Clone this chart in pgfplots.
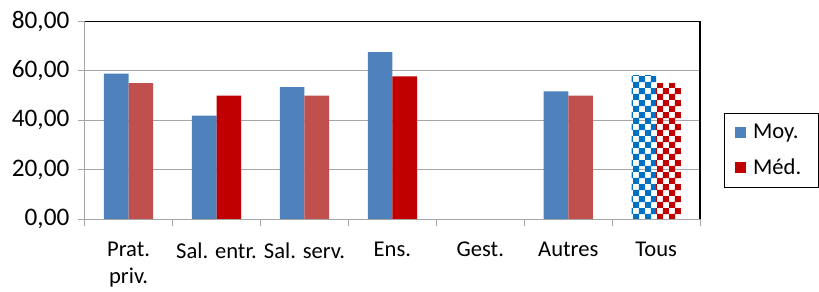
\documentclass[border=0pt]{standalone}
\usepackage{pgfplots}
\pgfplotsset{compat=1.18}
\usepackage{fontspec}
\setmainfont{Carlito}
\usetikzlibrary{patterns}
\pgfdeclarepatternformonly{bigchecker}{\pgfpointorigin}{\pgfqpoint{9pt}{9pt}}{\pgfqpoint{9pt}{9pt}}{%
 \pgfpathrectangle{\pgfpointorigin}{\pgfqpoint{4.6pt}{4.6pt}}%
 \pgfpathrectangle{\pgfqpoint{4.5pt}{4.5pt}}{\pgfqpoint{4.6pt}{4.6pt}}%
 \pgfusepath{fill}}
\definecolor{mblue}{HTML}{4F81BD}
\definecolor{mred}{HTML}{C0504D}
\definecolor{dred}{HTML}{C00000}
\definecolor{cblue}{HTML}{0070C0}
\definecolor{gridg}{HTML}{A6A6A6}
\begin{document}
\begin{tikzpicture}[font=\fontsize{17}{20}\selectfont]
\begin{axis}[
 scale only axis, width=463.5pt, height=148.7pt,
 xmin=-0.5, xmax=6.5, ymin=0, ymax=80,
 tick pos=left,
 ytick={0,20,40,60,80},
 yticklabel style={/tikz/xshift=-3pt, /tikz/font=\fontsize{19}{22}\selectfont, /pgf/number format/.cd, fixed, fixed zerofill, precision=2, use comma, assume math mode=true},
 ymajorgrids, grid style={gridg, line width=0.8pt},
 xtick={-0.5,0.5,1.5,2.5,3.5,4.5,5.5,6.5},
 xticklabels={},
 x tick style={gridg, line width=0.9pt},
 extra x ticks={0,1,2,3,4,5,6},
 extra x tick labels={{Prat.\\priv.},{Sal. entr.},{Sal. serv.},{Ens.},{Gest.},{Autres},{Tous}},
 extra x tick style={grid=none, major tick length=0pt, xticklabel style={align=center, anchor=north, yshift=-14pt}},
 tick align=outside,
 major tick length=5pt,
 y tick style={gridg, line width=0.8pt},
 axis line style={draw=none},
 clip=false,
 legend style={at={(1.039,0.348)}, anchor=west, draw=black, line width=0.8pt, inner xsep=8pt, inner ysep=6pt, row sep=10pt, font=\fontsize{17}{20}\selectfont, nodes={inner xsep=5pt}},
 legend cell align=left,
]
\addplot[ybar, bar width=0.28, bar shift=-0.14, fill=mblue, draw=none, forget plot] coordinates {(0,58.9) (1,41.9) (2,53.5) (3,67.6) (5,51.7)};
\addplot[ybar, bar width=0.28, bar shift=0.14, fill=mred, draw=none, forget plot] coordinates {(0,55.1) (2,50.0) (5,50.0)};
\addplot[ybar, bar width=0.28, bar shift=0.14, fill=dred, draw=none, forget plot] coordinates {(1,50.0) (3,57.8)};
\addplot[ybar, bar width=0.28, bar shift=-0.14, pattern=bigchecker, pattern color=cblue, draw=none, forget plot] coordinates {(6,58.0)};
\addplot[ybar, bar width=0.28, bar shift=0.14, pattern=bigchecker, pattern color=dred, draw=none, forget plot] coordinates {(6,54.8)};
\addlegendimage{legend image code/.code={\fill[mblue] (0pt,-3.8pt) rectangle (7.6pt,3.8pt);}}
\addlegendentry{Moy.}
\addlegendimage{legend image code/.code={\fill[dred] (0pt,-3.8pt) rectangle (7.6pt,3.8pt);}}
\addlegendentry{Méd.}
\draw[black, line width=1pt] (rel axis cs:0,1) -- (rel axis cs:1,1) -- (rel axis cs:1,0);
\draw[gridg, line width=0.8pt] (rel axis cs:0,1) -- (rel axis cs:0,0) -- (rel axis cs:1,0);
\path (rel axis cs:-0.1375,-0.343) rectangle (rel axis cs:1.1877,1.1094);
\end{axis}
\end{tikzpicture}
\end{document}
